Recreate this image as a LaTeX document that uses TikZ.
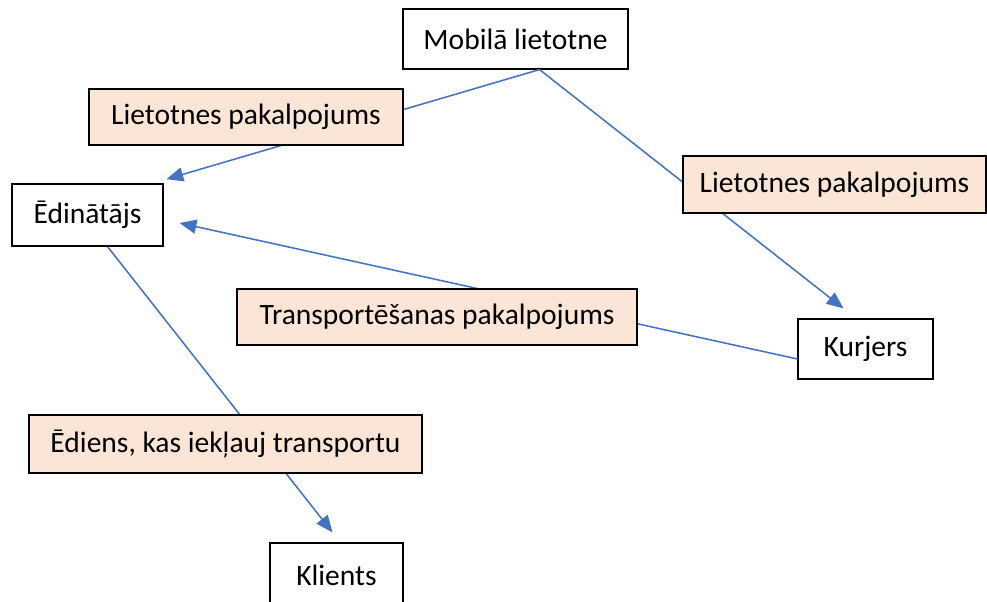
\documentclass[tikz,border=0pt]{standalone}
\usepackage{fontspec}
\setmainfont{Carlito}
\usetikzlibrary{arrows.meta}
\definecolor{linkblue}{HTML}{4472C4}
\definecolor{servicefill}{HTML}{FBE5D6}
\begin{document}
\begin{tikzpicture}[
    x=0.025cm, y=-0.025cm,
    entity/.style={rectangle, draw, fill=white, line width=0.8pt, text centered, inner sep=0pt, font=\fontsize{21}{25}\selectfont},
    service/.style={rectangle, draw, fill=servicefill, line width=0.8pt, text centered, inner sep=0pt, font=\fontsize{21}{25}\selectfont},
    arrow/.style={linkblue, line width=1.1pt, -{Triangle[length=12pt, width=10pt]}}
]
    \clip (0,0) rectangle (987,602);
    \fill[white] (0,0) rectangle (987,602);

    % Parties
    \node [entity, minimum width=5.625cm, minimum height=1.5cm] (mob) at (515.5,39) {Mobilā lietotne};
    \node [entity, minimum width=3.775cm, minimum height=1.55cm] (edin) at (87.5,215) {Ēdinātājs};
    \node [entity, minimum width=3.375cm, minimum height=1.5cm] (kur) at (865.5,349) {Kurjers};
    \node [entity, minimum width=3.325cm, minimum height=1.6cm] (kli) at (336.5,575) {Klients};

    % Flows
    \draw [arrow] ([xshift=0.6cm]mob.south) -- ([xshift=2pt,yshift=3pt]edin.north east);
    \draw [arrow] ([xshift=0.6cm]mob.south) -- ([xshift=-0.55cm,yshift=0.25cm]kur.north);
    \draw [arrow] ([yshift=-0.25cm]kur.west) -- ([xshift=0.4cm,yshift=-0.2cm]edin.east);
    \draw [arrow] ([xshift=0.5cm]edin.south) -- ([xshift=-0.1cm,yshift=0.25cm]kli.north);

    % Services on the flows
    \node [service, minimum width=7.85cm, minimum height=1.4cm] (appsvcl) at (246,117) {Lietotnes pakalpojums};
    \node [service, minimum width=7.575cm, minimum height=1.425cm] (appsvcr) at (834.5,184.5) {Lietotnes pakalpojums};
    \node [service, minimum width=10cm, minimum height=1.4cm] (transsvc) at (437,317) {Transportēšanas pakalpojums};
    \node [service, minimum width=9.825cm, minimum height=1.45cm] (meal) at (225.5,444) {Ēdiens, kas iekļauj transportu};
\end{tikzpicture}
\end{document}
